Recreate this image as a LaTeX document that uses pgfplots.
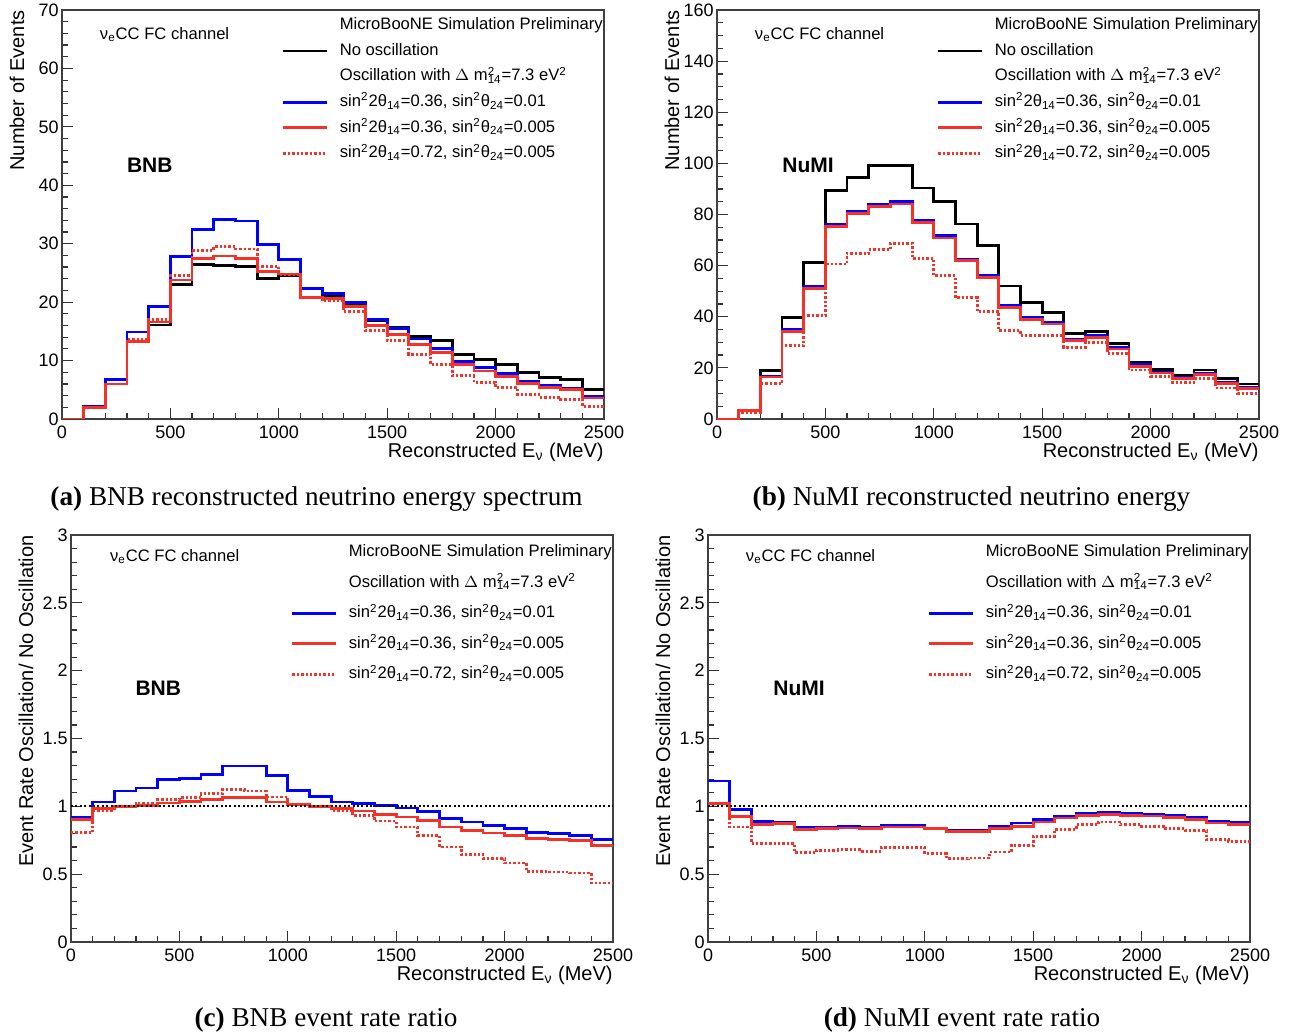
\documentclass[border=0pt]{standalone}
\usepackage{fontspec}
\setmainfont{Liberation Sans}
\newfontfamily\capfont{Liberation Serif}
\usepackage{pgfplots}
\usepackage{pgfplotstable}
\pgfplotsset{compat=1.18}

\definecolor{rootblue}{RGB}{0,0,255}
\definecolor{rootred}{RGB}{245,50,40}

% stacked super/subscript, ROOT style
\newcommand\supsub[2]{\rlap{\textsuperscript{#1}}\textsubscript{#2}}
\newcommand\osc{Oscillation with $\Delta$ m\supsub{2}{14}=7.3 eV\textsuperscript{2}}
\newcommand\parA{sin\textsuperscript{2}2θ\textsubscript{14}=0.36, sin\textsuperscript{2}θ\textsubscript{24}=0.01}
\newcommand\parB{sin\textsuperscript{2}2θ\textsubscript{14}=0.36, sin\textsuperscript{2}θ\textsubscript{24}=0.005}
\newcommand\parC{sin\textsuperscript{2}2θ\textsubscript{14}=0.72, sin\textsuperscript{2}θ\textsubscript{24}=0.005}

% BNB spectrum: no osc, s1 (0.36,0.01), s2 (0.36,0.005), s3 (0.72,0.005)
\pgfplotstableread{
E    nosc  s1    s2    s3
0    0     0     0     0
100  2.1   2.2   2.0   2.0
200  6.0   6.7   6.0   6.0
300  13.2  14.9  13.3  13.6
400  16.1  19.3  16.6  17.0
500  23.0  27.8  23.8  24.5
600  26.4  32.4  27.4  28.9
700  26.3  34.1  27.9  29.5
800  26.1  33.9  27.5  29.1
900  24.1  29.8  25.3  26.1
1000 24.5  27.3  24.8  24.7
1100 20.8  22.4  20.8  20.7
1200 20.9  21.5  20.6  20.2
1300 19.8  19.9  19.3  18.4
1400 16.8  17.0  16.0  15.2
1500 15.7  15.5  14.5  13.4
1600 14.1  13.7  12.7  11.1
1700 13.4  12.1  11.4  9.3
1800 11.1  9.8   9.3   7.4
1900 10.2  8.8   8.2   6.3
2000 9.3   7.8   7.3   5.4
2100 8.0   6.4   6.1   4.2
2200 7.1   5.7   5.4   3.7
2300 6.7   5.3   5.0   3.4
2400 5.0   3.8   3.6   2.2
2500 5.0   3.8   3.6   2.2
}\bnbspec

\pgfplotstableread{
E    nosc  s1    s2    s3
0    0     0     0     0
100  3.5   3.4   3.3   2.6
200  19.0  16.8  16.4  13.8
300  39.6  35.0  34.1  28.6
400  61.2  52.0  51.1  40.4
500  89.5  76.0  75.4  60.6
600  94.4  81.3  80.3  64.9
700  99.3  84.1  83.2  66.2
800  99.2  85.2  84.1  68.8
900  90.4  77.7  76.9  62.9
1000 85.2  71.8  70.8  56.0
1100 76.3  62.6  61.9  47.4
1200 67.8  56.0  55.3  42.0
1300 52.0  44.4  43.5  34.6
1400 45.5  39.8  38.9  32.6
1500 41.8  37.9  37.2  32.6
1600 33.5  31.3  30.7  28.1
1700 34.3  32.6  32.0  30.0
1800 29.4  28.1  27.4  25.7
1900 22.2  21.3  20.5  19.2
2000 19.3  18.4  18.0  16.6
2100 17.0  16.1  15.8  14.4
2200 19.2  18.0  17.5  15.7
2300 15.7  14.2  13.8  12.1
2400 13.7  12.3  11.8  10.1
2500 13.7  12.3  11.8  10.1
}\numispec

% ratios to no oscillation
\pgfplotstableread{
E    s1     s2     s3
0    0.916  0.904  0.806
100  1.032  0.983  0.970
200  1.113  1.000  1.000
300  1.135  1.007  1.025
400  1.197  1.025  1.049
500  1.204  1.037  1.064
600  1.233  1.052  1.093
700  1.297  1.064  1.123
800  1.297  1.064  1.113
900  1.229  1.032  1.069
1000 1.118  1.015  1.012
1100 1.074  1.000  0.995
1200 1.032  0.985  0.970
1300 1.020  0.966  0.934
1400 1.007  0.941  0.892
1500 0.988  0.921  0.848
1600 0.963  0.897  0.786
1700 0.909  0.848  0.700
1800 0.885  0.823  0.646
1900 0.860  0.803  0.614
2000 0.835  0.786  0.582
2100 0.806  0.762  0.521
2200 0.800  0.754  0.516
2300 0.786  0.750  0.509
2400 0.757  0.713  0.435
2500 0.757  0.713  0.435
}\bnbratio

\pgfplotstableread{
E    s1     s2     s3
0    1.187  1.020  1.020
100  0.975  0.926  0.848
200  0.889  0.865  0.725
300  0.880  0.872  0.725
400  0.848  0.830  0.658
500  0.848  0.835  0.676
600  0.855  0.840  0.680
700  0.843  0.835  0.670
800  0.860  0.848  0.695
900  0.860  0.848  0.695
1000 0.840  0.835  0.651
1100 0.823  0.816  0.614
1200 0.823  0.816  0.619
1300 0.855  0.835  0.663
1400 0.877  0.853  0.713
1500 0.902  0.885  0.779
1600 0.929  0.914  0.830
1700 0.946  0.934  0.865
1800 0.953  0.939  0.885
1900 0.946  0.934  0.865
2000 0.941  0.929  0.853
2100 0.934  0.916  0.835
2200 0.916  0.902  0.823
2300 0.892  0.877  0.754
2400 0.885  0.867  0.742
2500 0.885  0.867  0.742
}\numiratio

\pgfplotsset{
  rootaxis/.style={
    scale only axis, width=271pt, anchor=north west,
    xmin=0, xmax=2500, xtick={0,500,...,2500}, minor x tick num=4,
    ymin=0, tick pos=left, tick align=inside,
    major tick length=5.5pt, minor tick length=3pt,
    axis line style={black!75, line width=0.6pt},
    every tick/.style={black!80, line width=0.6pt},
    ticklabel style={font=\fontsize{9}{10}\selectfont},
    yticklabel style={inner xsep=1.5pt},
    /pgf/number format/assume math mode=true,
    /pgf/number format/1000 sep={},
    scaled y ticks=false,
    label style={font=\fontsize{9.5}{11}\selectfont},
    xlabel={Reconstructed E\textsubscript{ν} (MeV)},
    every axis x label/.style={at={(axis description cs:1,-0.081)}, anchor=east, inner sep=0pt},
    every axis y label/.style={at={(axis description cs:-0.083,1)}, rotate=90, anchor=east, inner sep=0pt},
    legend cell align=left,
    legend image code/.code={\draw[##1] (0pt,0pt) -- (22pt,0pt);},
    legend style={draw=none, fill=none, inner sep=0pt, outer sep=0pt,
      font=\fontsize{8.3}{10}\selectfont, anchor=north west,
      nodes={inner sep=0pt, text height=7pt, text depth=2.6pt},
      /tikz/every odd column/.append style={column sep=5.5pt}},
  },
  specaxis/.style={rootaxis, height=204.5pt, ylabel={Number of Events},
    minor y tick num=4,
    legend style={at={(0.406,0.986)}, row sep=3.2pt}},
  ratioaxis/.style={rootaxis, height=203.5pt, ymax=3, ytick={0,0.5,...,3},
    minor y tick num=4, ylabel={Event Rate Oscillation/ No Oscillation},
    legend style={at={(0.406,0.981)}, row sep=5.65pt}},
  hnosc/.style={black, line width=1.4pt, const plot},
  hs1/.style={rootblue, line width=1.4pt, const plot},
  hs2/.style={rootred, line width=1.4pt, const plot},
  hs3/.style={rootred, line width=1.4pt, dash pattern=on 1.2pt off 1pt, const plot},
  unity/.style={black, line width=1pt, dash pattern=on 1pt off 1.2pt, forget plot},
}

\tikzset{
  chan/.style={anchor=west, font=\fontsize{8.3}{10}\selectfont},
  beam/.style={font=\bfseries\fontsize{10.5}{12}\selectfont},
  capt/.style={anchor=base, font=\capfont\fontsize{13.6}{16}\selectfont},
}

\begin{document}
\begin{tikzpicture}
\useasboundingbox (0,0) rectangle (647.5pt,-516.5pt);

% (a) BNB spectrum
\begin{axis}[specaxis, at={(31pt,-5pt)}, ymax=70, ytick={0,10,...,70}]
\addlegendimage{empty legend}\addlegendentry{MicroBooNE Simulation Preliminary}
\addplot[hnosc] table[x=E,y=nosc] {\bnbspec};\addlegendentry{No oscillation}
\addlegendimage{empty legend}\addlegendentry{\osc}
\addplot[hs1] table[x=E,y=s1] {\bnbspec};\addlegendentry{\parA}
\addplot[hs2] table[x=E,y=s2] {\bnbspec};\addlegendentry{\parB}
\addplot[hs3] table[x=E,y=s3] {\bnbspec};\addlegendentry{\parC}
\node[chan] at (axis description cs:0.057,0.939) {ν\textsubscript{e}CC FC channel};
\node[beam] at (axis description cs:0.162,0.621) {BNB};
\end{axis}

% (b) NuMI spectrum
\begin{axis}[specaxis, at={(358.5pt,-5pt)}, ymax=160, ytick={0,20,...,160}, minor y tick num=3]
\addlegendimage{empty legend}\addlegendentry{MicroBooNE Simulation Preliminary}
\addplot[hnosc] table[x=E,y=nosc] {\numispec};\addlegendentry{No oscillation}
\addlegendimage{empty legend}\addlegendentry{\osc}
\addplot[hs1] table[x=E,y=s1] {\numispec};\addlegendentry{\parA}
\addplot[hs2] table[x=E,y=s2] {\numispec};\addlegendentry{\parB}
\addplot[hs3] table[x=E,y=s3] {\numispec};\addlegendentry{\parC}
\node[chan] at (axis description cs:0.057,0.939) {ν\textsubscript{e}CC FC channel};
\node[beam] at (axis description cs:0.168,0.621) {NuMI};
\end{axis}

% (c) BNB ratio
\begin{axis}[ratioaxis, at={(35.5pt,-267.5pt)}]
\addlegendimage{empty legend}\addlegendentry{MicroBooNE Simulation Preliminary}
\addlegendimage{empty legend}\addlegendentry{\osc}
\addplot[hs1] table[x=E,y=s1] {\bnbratio};\addlegendentry{\parA}
\addplot[hs2] table[x=E,y=s2] {\bnbratio};\addlegendentry{\parB}
\addplot[hs3] table[x=E,y=s3] {\bnbratio};\addlegendentry{\parC}
\addplot[unity] coordinates {(0,1) (2500,1)};
\node[chan] at (axis description cs:0.059,0.946) {ν\textsubscript{e}CC FC channel};
\node[beam] at (axis description cs:0.161,0.624) {BNB};
\end{axis}

% (d) NuMI ratio
\begin{axis}[ratioaxis, at={(354pt,-267.5pt)}]
\addlegendimage{empty legend}\addlegendentry{MicroBooNE Simulation Preliminary}
\addlegendimage{empty legend}\addlegendentry{\osc}
\addplot[hs1] table[x=E,y=s1] {\numiratio};\addlegendentry{\parA}
\addplot[hs2] table[x=E,y=s2] {\numiratio};\addlegendentry{\parB}
\addplot[hs3] table[x=E,y=s3] {\numiratio};\addlegendentry{\parC}
\addplot[unity] coordinates {(0,1) (2500,1)};
\node[chan] at (axis description cs:0.057,0.946) {ν\textsubscript{e}CC FC channel};
\node[beam] at (axis description cs:0.168,0.624) {NuMI};
\end{axis}

\node[capt] at (158.25pt,-252.5pt) {\textbf{(a)} BNB reconstructed neutrino energy spectrum};
\node[capt] at (485.75pt,-252.5pt) {\textbf{(b)} NuMI reconstructed neutrino energy};
\node[capt] at (163pt,-513.2pt) {\textbf{(c)} BNB event rate ratio};
\node[capt] at (481pt,-513.2pt) {\textbf{(d)} NuMI event rate ratio};
\end{tikzpicture}
\end{document}
